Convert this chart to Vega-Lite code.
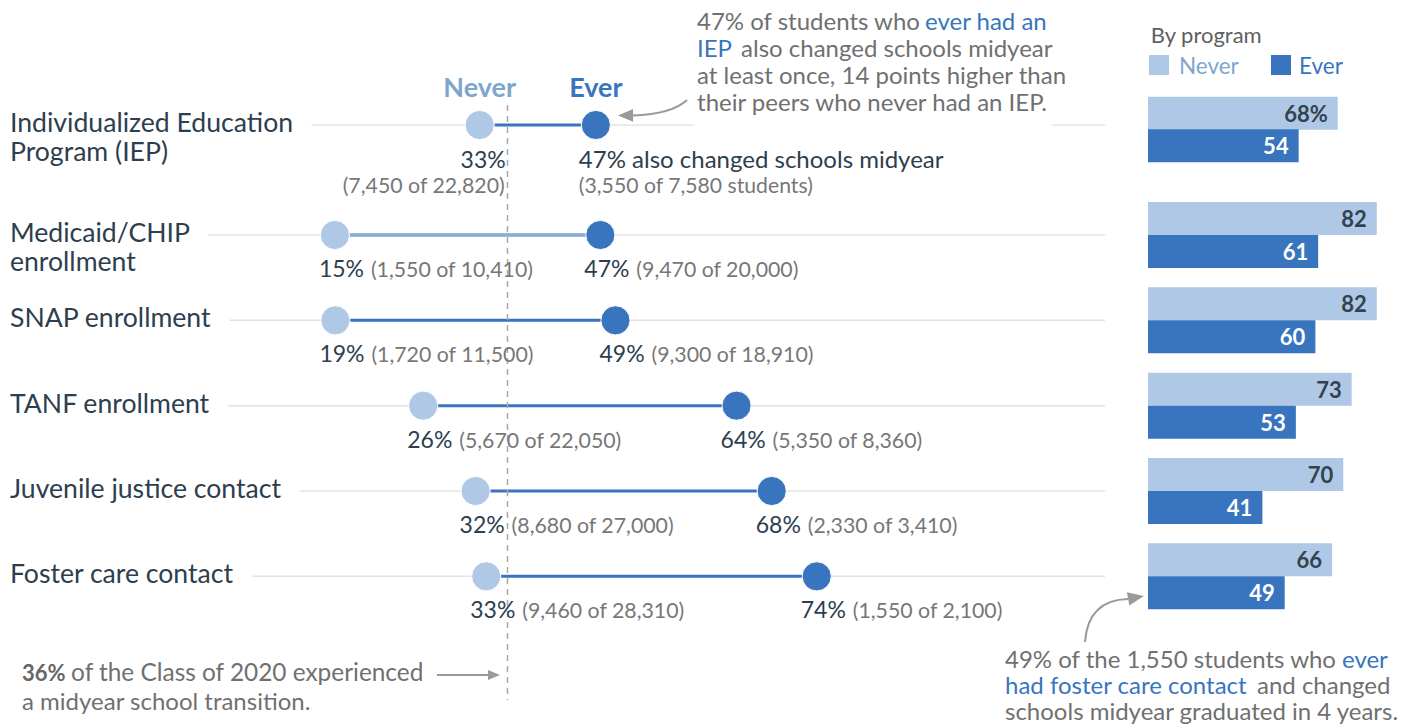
{
  "$schema": "https://vega.github.io/schema/vega-lite/v6.json",
  "width": 1411,
  "height": 512,
  "autosize": {"type": "none"},
  "padding": {"left": 0, "right": 0, "top": 107, "bottom": 106},
  "background": "white",
  "config": {"font": "Lato", "text": {"font": "Lato"}, "view": {"stroke": null}, "axis": {"disable": true}},
  "datasets": {
    "rows": [
      {"program": "IEP", "label": "Individualized Education\nProgram (IEP)", "never_pos": 32.6, "ever_pos": 46.8, "never_pct": "33%", "ever_pct": "47%", "never_n": "(7,450 of 22,820)", "ever_n": "(3,550 of 7,580 students)", "grad_never": 68, "grad_ever": 54, "grad_never_label": "68%"},
      {"program": "Medicaid", "label": "Medicaid/CHIP\nenrollment", "never_pos": 14.9, "ever_pos": 47.35, "never_pct": "15%", "ever_pct": "47%", "never_n": "(1,550 of 10,410)", "ever_n": "(9,470 of 20,000)", "grad_never": 82, "grad_ever": 61, "grad_never_label": "82"},
      {"program": "SNAP", "label": "SNAP enrollment", "never_pos": 14.96, "ever_pos": 49.2, "never_pct": "19%", "ever_pct": "49%", "never_n": "(1,720 of 11,500)", "ever_n": "(9,300 of 18,910)", "grad_never": 82, "grad_ever": 60, "grad_never_label": "82"},
      {"program": "TANF", "label": "TANF enrollment", "never_pos": 25.7, "ever_pos": 64.0, "never_pct": "26%", "ever_pct": "64%", "never_n": "(5,670 of 22,050)", "ever_n": "(5,350 of 8,360)", "grad_never": 73, "grad_ever": 53, "grad_never_label": "73"},
      {"program": "Juvenile", "label": "Juvenile justice contact", "never_pos": 32.1, "ever_pos": 68.3, "never_pct": "32%", "ever_pct": "68%", "never_n": "(8,680 of 27,000)", "ever_n": "(2,330 of 3,410)", "grad_never": 70, "grad_ever": 41, "grad_never_label": "70"},
      {"program": "Foster", "label": "Foster care contact", "never_pos": 33.4, "ever_pos": 73.8, "never_pct": "33%", "ever_pct": "74%", "never_n": "(9,460 of 28,310)", "ever_n": "(1,550 of 2,100)", "grad_never": 66, "grad_ever": 49, "grad_never_label": "66"}
    ]
  },
  "resolve": {"scale": {"x": "independent"}},
  "layer": [
    {
      "layer": [
        {
          "data": {"name": "rows"},
          "mark": {"type": "rule", "color": "#e3e3e3", "strokeWidth": 1.5, "yOffset": {"expr": "datum.program === 'IEP' ? -24.67 : 0"}},
          "encoding": {
            "x": {"datum": -24.8, "type": "quantitative", "scale": {"domain": [-26.04, 146.45], "nice": false, "zero": false}},
            "x2": {"datum": 109.05},
            "y": {"field": "program", "type": "nominal", "scale": {"domain": ["IEP", "Medicaid", "SNAP", "TANF", "Juvenile", "Foster"], "paddingInner": 0, "paddingOuter": 0}}
          }
        },
        {
          "data": {"name": "rows"},
          "mark": {"type": "rule", "color": "#3875be", "strokeWidth": 3, "yOffset": {"expr": "datum.program === 'IEP' ? -24.67 : 0"}},
          "encoding": {
            "x": {"field": "never_pos", "type": "quantitative"},
            "x2": {"field": "ever_pos"},
            "y": {"field": "program", "type": "nominal"}
          }
        },
        {
          "data": {"name": "rows"},
          "transform": [{"filter": "datum.program === 'Medicaid'"}],
          "mark": {"type": "rule", "color": "#dde6f1", "strokeWidth": 1},
          "encoding": {
            "x": {"field": "never_pos", "type": "quantitative"},
            "x2": {"field": "ever_pos"},
            "y": {"field": "program", "type": "nominal"}
          }
        },
        {
          "data": {"values": [{}]},
          "mark": {"type": "rule", "color": "#a8a8a8", "strokeWidth": 1.5, "strokeDash": [6, 5], "yOffset": -44.67, "y2Offset": 123.67},
          "encoding": {
            "x": {"datum": 36, "type": "quantitative"},
            "y": {"datum": "IEP", "type": "nominal"},
            "y2": {"datum": "Foster"}
          }
        },
        {
          "data": {"name": "rows"},
          "mark": {"type": "text", "align": "left", "baseline": "alphabetic", "dy": 7, "fontSize": 26.6, "lineHeight": 29, "lineBreak": "\n", "color": "white", "stroke": "white", "strokeWidth": 40, "strokeJoin": "round", "yOffset": {"expr": "datum.program === 'IEP' ? -24.67 : 0"}},
          "encoding": {
            "x": {"datum": -24.82, "type": "quantitative"},
            "y": {"field": "program", "type": "nominal"},
            "text": {"field": "label"}
          }
        },
        {
          "data": {"name": "rows"},
          "mark": {"type": "text", "align": "left", "baseline": "alphabetic", "dy": 7, "fontSize": 26.6, "lineHeight": 29, "lineBreak": "\n", "color": "#2d3e4e", "yOffset": {"expr": "datum.program === 'IEP' ? -24.67 : 0"}},
          "encoding": {
            "x": {"datum": -24.82, "type": "quantitative"},
            "y": {"field": "program", "type": "nominal"},
            "text": {"field": "label"}
          }
        },
        {
          "data": {"name": "rows"},
          "mark": {"type": "point", "shape": "circle", "filled": true, "size": 850, "color": "#aec8e6", "stroke": "white", "strokeWidth": 1, "opacity": 1, "yOffset": {"expr": "datum.program === 'IEP' ? -24.67 : 0"}},
          "encoding": {
            "x": {"field": "never_pos", "type": "quantitative"},
            "y": {"field": "program", "type": "nominal"}
          }
        },
        {
          "data": {"name": "rows"},
          "mark": {"type": "point", "shape": "circle", "filled": true, "size": 850, "color": "#3875be", "stroke": "white", "strokeWidth": 1, "opacity": 1, "yOffset": {"expr": "datum.program === 'IEP' ? -24.67 : 0"}},
          "encoding": {
            "x": {"field": "ever_pos", "type": "quantitative"},
            "y": {"field": "program", "type": "nominal"}
          }
        },
        {
          "data": {"name": "rows"},
          "transform": [{"filter": "datum.program !== 'IEP'"}],
          "mark": {"type": "text", "align": "left", "baseline": "alphabetic", "dx": -16, "dy": 42, "fontSize": 23, "color": "#2d3e4e"},
          "encoding": {
            "x": {"field": "never_pos", "type": "quantitative"},
            "y": {"field": "program", "type": "nominal"},
            "text": {"field": "never_pct"}
          }
        },
        {
          "data": {"name": "rows"},
          "transform": [{"filter": "datum.program !== 'IEP'"}],
          "mark": {"type": "text", "align": "left", "baseline": "alphabetic", "dx": 36, "dy": 42, "fontSize": 21.3, "color": "#777777"},
          "encoding": {
            "x": {"field": "never_pos", "type": "quantitative"},
            "y": {"field": "program", "type": "nominal"},
            "text": {"field": "never_n"}
          }
        },
        {
          "data": {"name": "rows"},
          "transform": [{"filter": "datum.program !== 'IEP'"}],
          "mark": {"type": "text", "align": "left", "baseline": "alphabetic", "dx": -16, "dy": 42, "fontSize": 23, "color": "#2d3e4e"},
          "encoding": {
            "x": {"field": "ever_pos", "type": "quantitative"},
            "y": {"field": "program", "type": "nominal"},
            "text": {"field": "ever_pct"}
          }
        },
        {
          "data": {"name": "rows"},
          "transform": [{"filter": "datum.program !== 'IEP'"}],
          "mark": {"type": "text", "align": "left", "baseline": "alphabetic", "dx": 36, "dy": 42, "fontSize": 21.3, "color": "#777777"},
          "encoding": {
            "x": {"field": "ever_pos", "type": "quantitative"},
            "y": {"field": "program", "type": "nominal"},
            "text": {"field": "ever_n"}
          }
        },
        {
          "data": {"name": "rows"},
          "transform": [{"filter": "datum.program === 'IEP'"}],
          "mark": {"type": "text", "align": "right", "baseline": "alphabetic", "dx": 26, "dy": 43, "yOffset": -24.67, "fontSize": 23, "color": "#2d3e4e"},
          "encoding": {
            "x": {"field": "never_pos", "type": "quantitative"},
            "y": {"field": "program", "type": "nominal"},
            "text": {"field": "never_pct"}
          }
        },
        {
          "data": {"name": "rows"},
          "transform": [{"filter": "datum.program === 'IEP'"}],
          "mark": {"type": "text", "align": "right", "baseline": "alphabetic", "dx": 25, "dy": 68, "yOffset": -24.67, "fontSize": 21.3, "color": "#777777"},
          "encoding": {
            "x": {"field": "never_pos", "type": "quantitative"},
            "y": {"field": "program", "type": "nominal"},
            "text": {"field": "never_n"}
          }
        },
        {
          "data": {"name": "rows"},
          "transform": [{"filter": "datum.program === 'IEP'"}],
          "mark": {"type": "text", "align": "left", "baseline": "alphabetic", "dx": -17, "dy": 43, "yOffset": -24.67, "fontSize": 24, "color": "#2d3e4e"},
          "encoding": {
            "x": {"field": "ever_pos", "type": "quantitative"},
            "y": {"field": "program", "type": "nominal"},
            "text": {"value": "47% also changed schools midyear"}
          }
        },
        {
          "data": {"name": "rows"},
          "transform": [{"filter": "datum.program === 'IEP'"}],
          "mark": {"type": "text", "align": "left", "baseline": "alphabetic", "dx": -17, "dy": 68, "yOffset": -24.67, "fontSize": 21.2, "color": "#777777"},
          "encoding": {
            "x": {"field": "ever_pos", "type": "quantitative"},
            "y": {"field": "program", "type": "nominal"},
            "text": {"field": "ever_n"}
          }
        },
        {
          "data": {"name": "rows"},
          "transform": [{"filter": "datum.program === 'IEP'"}],
          "mark": {"type": "text", "align": "center", "baseline": "alphabetic", "dy": -28, "yOffset": -24.67, "fontSize": 27, "fontWeight": "bold", "color": "#7ea6cc"},
          "encoding": {
            "x": {"field": "never_pos", "type": "quantitative"},
            "y": {"field": "program", "type": "nominal"},
            "text": {"value": "Never"}
          }
        },
        {
          "data": {"name": "rows"},
          "transform": [{"filter": "datum.program === 'IEP'"}],
          "mark": {"type": "text", "align": "center", "baseline": "alphabetic", "dy": -28, "yOffset": -24.67, "fontSize": 27, "fontWeight": "bold", "color": "#3875be"},
          "encoding": {
            "x": {"field": "ever_pos", "type": "quantitative"},
            "y": {"field": "program", "type": "nominal"},
            "text": {"value": "Ever"}
          }
        },
        {
          "data": {"values": [{}]},
          "mark": {"type": "text", "align": "left", "baseline": "alphabetic", "dy": -38.67, "fontSize": 24, "color": "white", "stroke": "white", "strokeWidth": 32, "strokeJoin": "round"},
          "encoding": {
            "x": {"datum": 59.17, "type": "quantitative"},
            "y": {"datum": "IEP", "type": "nominal"},
            "text": {"value": "their peers who never had an IEP."}
          }
        },
        {
          "data": {"values": [{}]},
          "mark": {"type": "text", "align": "left", "baseline": "alphabetic", "dy": -119.67, "fontSize": 24, "color": "#707070"},
          "encoding": {
            "x": {"datum": 59.17, "type": "quantitative"},
            "y": {"datum": "IEP", "type": "nominal"},
            "text": {"value": "47% of students who"}
          }
        },
        {
          "data": {"values": [{}]},
          "mark": {"type": "text", "align": "left", "baseline": "alphabetic", "dy": -119.67, "fontSize": 24, "color": "#3875be"},
          "encoding": {
            "x": {"datum": 87.04, "type": "quantitative"},
            "y": {"datum": "IEP", "type": "nominal"},
            "text": {"value": "ever had an"}
          }
        },
        {
          "data": {"values": [{}]},
          "mark": {"type": "text", "align": "left", "baseline": "alphabetic", "dy": -92.67, "fontSize": 24, "color": "#3875be"},
          "encoding": {
            "x": {"datum": 59.17, "type": "quantitative"},
            "y": {"datum": "IEP", "type": "nominal"},
            "text": {"value": "IEP"}
          }
        },
        {
          "data": {"values": [{}]},
          "mark": {"type": "text", "align": "left", "baseline": "alphabetic", "dy": -92.67, "fontSize": 24, "color": "#707070"},
          "encoding": {
            "x": {"datum": 64.55, "type": "quantitative"},
            "y": {"datum": "IEP", "type": "nominal"},
            "text": {"value": "also changed schools midyear"}
          }
        },
        {
          "data": {"values": [{}]},
          "mark": {"type": "text", "align": "left", "baseline": "alphabetic", "dy": -65.67, "fontSize": 24, "color": "#707070"},
          "encoding": {
            "x": {"datum": 59.17, "type": "quantitative"},
            "y": {"datum": "IEP", "type": "nominal"},
            "text": {"value": "at least once, 14 points higher than"}
          }
        },
        {
          "data": {"values": [{}]},
          "mark": {"type": "text", "align": "left", "baseline": "alphabetic", "dy": -38.67, "fontSize": 24, "color": "#707070"},
          "encoding": {
            "x": {"datum": 59.17, "type": "quantitative"},
            "y": {"datum": "IEP", "type": "nominal"},
            "text": {"value": "their peers who never had an IEP."}
          }
        },
        {
          "data": {"values": [{}]},
          "mark": {"type": "point", "shape": "M 0.9 -0.267 Q 0.4 0.2 -0.9 0.25", "filled": false, "size": 3600, "color": "#9a9a9a", "strokeWidth": 2, "opacity": 1, "yOffset": -41.67},
          "encoding": {
            "x": {"datum": 54.65, "type": "quantitative"},
            "y": {"datum": "IEP", "type": "nominal"}
          }
        },
        {
          "data": {"values": [{}]},
          "mark": {"type": "point", "shape": "M -1 0 L 1 -0.85 L 1 0.85 Z", "filled": true, "size": 225, "color": "#9a9a9a", "strokeWidth": 0, "opacity": 1, "yOffset": -34.17},
          "encoding": {
            "x": {"datum": 50.43, "type": "quantitative"},
            "y": {"datum": "IEP", "type": "nominal"}
          }
        },
        {
          "data": {"values": [{}]},
          "mark": {"type": "text", "align": "left", "baseline": "alphabetic", "dy": 104.67, "fontSize": 22, "fontWeight": "bold", "color": "#666666"},
          "encoding": {
            "x": {"datum": -23.35, "type": "quantitative"},
            "y": {"datum": "Foster", "type": "nominal"},
            "text": {"value": "36%"}
          }
        },
        {
          "data": {"values": [{}]},
          "mark": {"type": "text", "align": "left", "baseline": "alphabetic", "dy": 104.67, "fontSize": 24.4, "color": "#707070"},
          "encoding": {
            "x": {"datum": -17.35, "type": "quantitative"},
            "y": {"datum": "Foster", "type": "nominal"},
            "text": {"value": "of the Class of 2020 experienced"}
          }
        },
        {
          "data": {"values": [{}]},
          "mark": {"type": "text", "align": "left", "baseline": "alphabetic", "dy": 133.67, "fontSize": 24, "color": "#707070"},
          "encoding": {
            "x": {"datum": -23.35, "type": "quantitative"},
            "y": {"datum": "Foster", "type": "nominal"},
            "text": {"value": "a midyear school transition."}
          }
        },
        {
          "data": {"values": [{}]},
          "mark": {"type": "rule", "color": "#9a9a9a", "strokeWidth": 2, "yOffset": 98.67},
          "encoding": {
            "x": {"datum": 27.38, "type": "quantitative"},
            "x2": {"datum": 33.86},
            "y": {"datum": "Foster", "type": "nominal"}
          }
        },
        {
          "data": {"values": [{}]},
          "mark": {"type": "point", "shape": "M 1 0 L -1 -0.85 L -1 0.85 Z", "filled": true, "size": 144, "color": "#9a9a9a", "strokeWidth": 0, "opacity": 1, "yOffset": 98.67},
          "encoding": {
            "x": {"datum": 34.35, "type": "quantitative"},
            "y": {"datum": "Foster", "type": "nominal"}
          }
        }
      ]
    },
    {
      "layer": [
        {
          "data": {"name": "rows"},
          "mark": {"type": "bar", "color": "#aec8e6", "height": 33, "yOffset": {"expr": "datum.program === 'IEP' ? -36.5 : -16.5"}},
          "encoding": {
            "x": {"field": "grad_never", "type": "quantitative", "scale": {"domain": [-411.47, 94.27], "nice": false, "zero": false}},
            "y": {"field": "program", "type": "nominal"}
          }
        },
        {
          "data": {"name": "rows"},
          "mark": {"type": "bar", "color": "#3875be", "height": 33, "yOffset": {"expr": "datum.program === 'IEP' ? -4 : 16.5"}},
          "encoding": {
            "x": {"field": "grad_ever", "type": "quantitative"},
            "y": {"field": "program", "type": "nominal"}
          }
        },
        {
          "data": {"name": "rows"},
          "mark": {"type": "text", "align": "right", "baseline": "alphabetic", "dx": -10, "dy": 8.5, "fontSize": 22, "fontWeight": "bold", "color": "#33424f", "yOffset": {"expr": "datum.program === 'IEP' ? -36.5 : -16.5"}},
          "encoding": {
            "x": {"field": "grad_never", "type": "quantitative"},
            "y": {"field": "program", "type": "nominal"},
            "text": {"field": "grad_never_label"}
          }
        },
        {
          "data": {"name": "rows"},
          "mark": {"type": "text", "align": "right", "baseline": "alphabetic", "dx": -10, "dy": 8.5, "fontSize": 22, "fontWeight": "bold", "color": "white", "yOffset": {"expr": "datum.program === 'IEP' ? -4 : 16.5"}},
          "encoding": {
            "x": {"field": "grad_ever", "type": "quantitative"},
            "y": {"field": "program", "type": "nominal"},
            "text": {"field": "grad_ever"}
          }
        },
        {
          "data": {"values": [{}]},
          "mark": {"type": "text", "align": "left", "baseline": "alphabetic", "dy": -106.67, "fontSize": 22, "color": "#606060"},
          "encoding": {
            "x": {"datum": 0.97, "type": "quantitative"},
            "y": {"datum": "IEP", "type": "nominal"},
            "text": {"value": "By program"}
          }
        },
        {
          "data": {"values": [{}]},
          "mark": {"type": "point", "shape": "square", "filled": true, "size": 400, "color": "#aec8e6", "opacity": 1, "yOffset": -84.67},
          "encoding": {
            "x": {"datum": 3.94, "type": "quantitative"},
            "y": {"datum": "IEP", "type": "nominal"}
          }
        },
        {
          "data": {"values": [{}]},
          "mark": {"type": "point", "shape": "square", "filled": true, "size": 400, "color": "#3875be", "opacity": 1, "yOffset": -84.67},
          "encoding": {
            "x": {"datum": 47.67, "type": "quantitative"},
            "y": {"datum": "IEP", "type": "nominal"}
          }
        },
        {
          "data": {"values": [{}]},
          "mark": {"type": "text", "align": "left", "baseline": "alphabetic", "dy": -75.67, "fontSize": 22.5, "color": "#7ea6cc"},
          "encoding": {
            "x": {"datum": 11.11, "type": "quantitative"},
            "y": {"datum": "IEP", "type": "nominal"},
            "text": {"value": "Never"}
          }
        },
        {
          "data": {"values": [{}]},
          "mark": {"type": "text", "align": "left", "baseline": "alphabetic", "dy": -75.67, "fontSize": 22.5, "color": "#3875be"},
          "encoding": {
            "x": {"datum": 54.12, "type": "quantitative"},
            "y": {"datum": "IEP", "type": "nominal"},
            "text": {"value": "Ever"}
          }
        },
        {
          "data": {"values": [{}]},
          "mark": {"type": "text", "align": "left", "baseline": "alphabetic", "dy": 91.67, "fontSize": 24, "color": "#707070"},
          "encoding": {
            "x": {"datum": -51.25, "type": "quantitative"},
            "y": {"datum": "Foster", "type": "nominal"},
            "text": {"value": "49% of the 1,550 students who"}
          }
        },
        {
          "data": {"values": [{}]},
          "mark": {"type": "text", "align": "left", "baseline": "alphabetic", "dy": 91.67, "fontSize": 24, "color": "#3875be"},
          "encoding": {
            "x": {"datum": 69.53, "type": "quantitative"},
            "y": {"datum": "Foster", "type": "nominal"},
            "text": {"value": "ever"}
          }
        },
        {
          "data": {"values": [{}]},
          "mark": {"type": "text", "align": "left", "baseline": "alphabetic", "dy": 117.67, "fontSize": 24, "color": "#3875be"},
          "encoding": {
            "x": {"datum": -51.25, "type": "quantitative"},
            "y": {"datum": "Foster", "type": "nominal"},
            "text": {"value": "had foster care contact"}
          }
        },
        {
          "data": {"values": [{}]},
          "mark": {"type": "text", "align": "left", "baseline": "alphabetic", "dy": 117.67, "fontSize": 24, "color": "#707070"},
          "encoding": {
            "x": {"datum": 39.07, "type": "quantitative"},
            "y": {"datum": "Foster", "type": "nominal"},
            "text": {"value": "and changed"}
          }
        },
        {
          "data": {"values": [{}]},
          "mark": {"type": "text", "align": "left", "baseline": "alphabetic", "dy": 143.67, "fontSize": 24, "color": "#707070"},
          "encoding": {
            "x": {"datum": -51.25, "type": "quantitative"},
            "y": {"datum": "Foster", "type": "nominal"},
            "text": {"value": "schools midyear graduated in 4 years."}
          }
        },
        {
          "data": {"values": [{}]},
          "mark": {"type": "point", "shape": "M -0.86 0.86 Q -0.74 -0.82 0.86 -0.86", "filled": false, "size": 2500, "color": "#9a9a9a", "strokeWidth": 2, "opacity": 1, "yOffset": 44.17},
          "encoding": {
            "x": {"datum": -14.87, "type": "quantitative"},
            "y": {"datum": "Foster", "type": "nominal"}
          }
        },
        {
          "data": {"values": [{}]},
          "mark": {"type": "point", "shape": "M 1 0 L -1 -0.85 L -1 0.85 Z", "filled": true, "size": 256, "angle": -10, "color": "#9a9a9a", "strokeWidth": 0, "opacity": 1, "yOffset": 21.17},
          "encoding": {
            "x": {"datum": -4.3, "type": "quantitative"},
            "y": {"datum": "Foster", "type": "nominal"}
          }
        }
      ]
    }
  ]
}
